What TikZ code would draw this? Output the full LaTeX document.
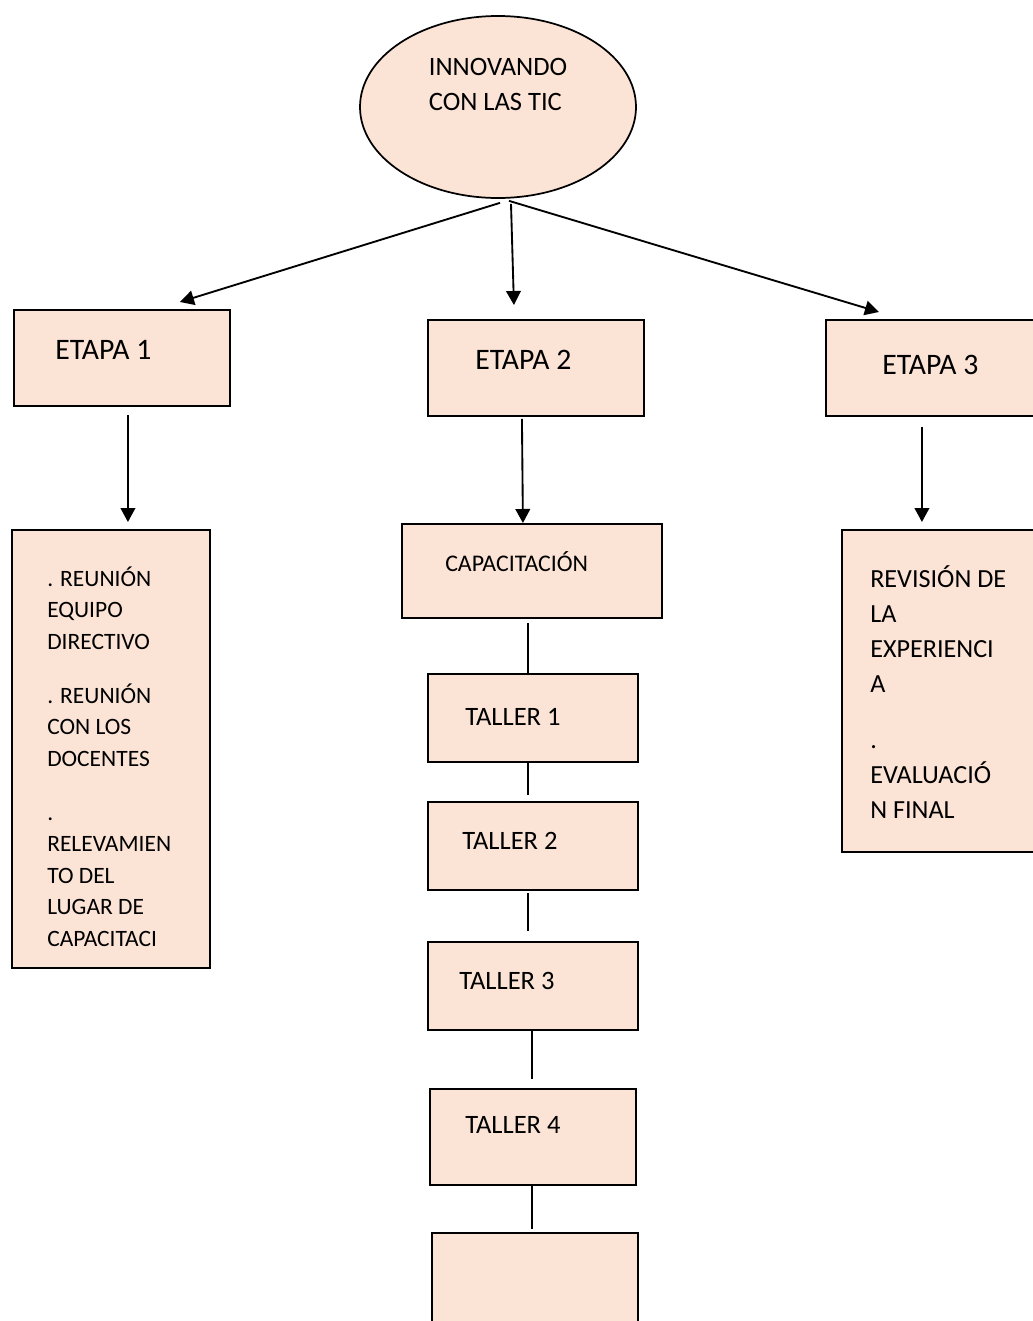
\documentclass[tikz,border=0pt]{standalone}
\usepackage{fontspec}
\setmainfont{Carlito}
\usepackage{tikz}
\usetikzlibrary{positioning, arrows.meta, shapes.geometric}
\definecolor{peach}{HTML}{FBE3D6}

\begin{document}
\begin{tikzpicture}[
  x=0.75pt, y=-0.75pt,
  stage/.style={rectangle, draw=black, line width=1.4pt, fill=peach,
                anchor=north west, inner sep=0pt},
  label/.style={inner sep=0pt, align=left},
  etapa/.style={label, font=\fontsize{22.3pt}{26pt}\selectfont},
  taller/.style={label, font=\fontsize{19.9pt}{26pt}\selectfont},
  arr/.style={-{Triangle[length=10.5pt, width=11pt]}, line width=1.4pt},
  link/.style={line width=1.4pt}
]
\useasboundingbox (0,0) rectangle (1032,1321);
% Root ellipse
\node[ellipse, draw=black, line width=1.3pt, fill=peach,
      minimum width=207pt, minimum height=136.5pt] (root) at (498,107) {};
\node[taller, font=\fontsize{19.9pt}{26.25pt}\selectfont, yshift=17.25pt]
  (roottxt) at (root.center) {INNOVANDO\\CON LAS TIC};
% The three stages
\node[stage, minimum width=162pt, minimum height=72pt] (e1) at (13,309) {};
\node[etapa, right=31.5pt of e1.west, yshift=6pt] (e1txt) {ETAPA 1};
\node[stage, minimum width=162pt, minimum height=72pt] (e2) at (427,319) {};
\node[etapa, right=36pt of e2.west, yshift=6pt] (e2txt) {ETAPA 2};
\node[stage, minimum width=165pt, minimum height=72pt] (e3) at (825,319) {};
\node[etapa, right=42.75pt of e3.west, yshift=2.25pt] (e3txt) {ETAPA 3};
% Stage 1 tasks
\node[stage, minimum width=148.5pt, minimum height=328.5pt] (act1) at (11,529) {};
\node[label, font=\fontsize{17.6pt}{23.6pt}\selectfont,
      below right=28pt and 27pt of act1.north west] (act1txt)
  {. REUNIÓN\\EQUIPO\\DIRECTIVO\\[17pt]
   . REUNIÓN\\CON LOS\\DOCENTES\\[17pt]
   .\\RELEVAMIEN\\TO DEL\\LUGAR DE\\CAPACITACI};
% Stage 2: training and workshops
\node[stage, minimum width=195pt, minimum height=70.5pt] (capa) at (401,523) {};
\node[label, font=\fontsize{17.9pt}{22pt}\selectfont,
      right=33pt of capa.west, yshift=6.75pt] (capatxt) {CAPACITACIÓN};
\node[stage, minimum width=157.5pt, minimum height=66pt] (t1) at (427,673) {};
\node[taller, right=28.5pt of t1.west, yshift=0.75pt] (t1txt) {TALLER 1};
\node[stage, minimum width=157.5pt, minimum height=66pt] (t2) at (427,801) {};
\node[taller, right=26.25pt of t2.west, yshift=3.75pt] (t2txt) {TALLER 2};
\node[stage, minimum width=157.5pt, minimum height=66pt] (t3) at (427,941) {};
\node[taller, right=24pt of t3.west, yshift=3.75pt] (t3txt) {TALLER 3};
\node[stage, minimum width=154.5pt, minimum height=72pt] (t4) at (429,1088) {};
\node[taller, right=27pt of t4.west, yshift=9pt] (t4txt) {TALLER 4};
\node[stage, minimum width=154.5pt, minimum height=75pt] (t5) at (431,1232) {};
% Stage 3 tasks
\node[stage, minimum width=150pt, minimum height=241.5pt] (act3) at (841,529) {};
\node[label, font=\fontsize{19.6pt}{26.25pt}\selectfont,
      below right=27pt and 21.75pt of act3.north west] (act3txt)
  {REVISIÓN DE\\LA\\EXPERIENCI\\A\\[16pt]
   .\\EVALUACIÓ\\N FINAL};
% Arrows from the root
\draw[arr] ([xshift=1.5pt, yshift=-3pt]root.south) -- ([xshift=43.5pt, yshift=5.25pt]e1.north);
\draw[arr] ([xshift=9.75pt, yshift=-3.75pt]root.south) -- ([xshift=-16.5pt, yshift=10.5pt]e2.north);
\draw[arr] ([xshift=8.25pt, yshift=-1.5pt]root.south) -- ([xshift=-42.75pt, yshift=5.25pt]e3.north);
% Arrows down from the stages
\draw[arr] ([xshift=4.5pt, yshift=-6pt]e1.south) -- ([xshift=12.75pt, yshift=5.25pt]act1.north);
\draw[arr] ([xshift=-10.5pt, yshift=-1.5pt]e2.south) -- ([xshift=-6.75pt]capa.north);
\draw[arr] ([xshift=-10.5pt, yshift=-7.5pt]e3.south) -- ([xshift=-15pt, yshift=5.25pt]act3.north);
% Workshop chain
\draw[link] ([xshift=-3pt, yshift=-3pt]capa.south) -- ([xshift=-3.75pt]t1.north);
\draw[link] ([xshift=-3.75pt]t1.south) -- ([xshift=-3.75pt, yshift=4.5pt]t2.north);
\draw[link] ([xshift=-3.75pt, yshift=-1.5pt]t2.south) -- ([xshift=-3.75pt, yshift=7.5pt]t3.north);
\draw[link] ([xshift=-0.75pt]t3.south) -- ([xshift=-0.75pt, yshift=6.75pt]t4.north);
\draw[link] ([xshift=-0.75pt]t4.south) -- ([xshift=-2.25pt, yshift=2.25pt]t5.north);
\end{tikzpicture}
\end{document}
